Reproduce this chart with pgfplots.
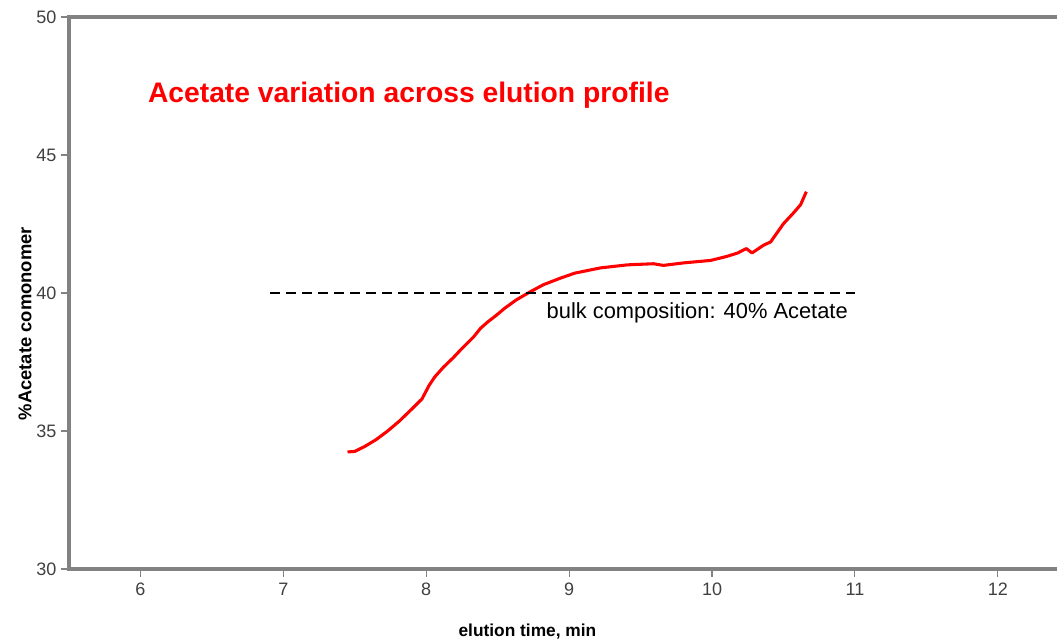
\documentclass[border=0pt]{standalone}
\usepackage{fontspec}
\setmainfont{Liberation Sans}
\usepackage{pgfplots}
\pgfplotsset{compat=1.18}
\definecolor{axgray}{RGB}{130,130,130}
\definecolor{lblgray}{RGB}{64,64,64}
\begin{document}
\begin{tikzpicture}
\begin{axis}[
  at={(0,0)}, anchor=south west,
  scale only axis,
  width=750.2pt, height=414pt,
  xmin=5.5, xmax=12.5, ymin=30, ymax=50,
  xtick={6,7,8,9,10,11,12},
  ytick={30,35,40,45,50},
  xtick pos=bottom, ytick pos=left,
  tick align=outside,
  major tick length=6pt,
  axis line style={axgray},
  every tick/.style={axgray, line width=0.8pt},
  tick label style={font=\fontsize{13.5}{15}\selectfont, text=lblgray},
  /pgf/number format/assume math mode=true,
  xticklabel style={yshift=-1pt},
  clip=false,
]
\addplot[red, line width=2.3pt, line join=round] coordinates {
(7.449,34.24) (7.50,34.26) (7.57,34.44) (7.65,34.69) (7.73,35.00)
(7.81,35.35) (7.90,35.80) (7.97,36.16) (8.02,36.65) (8.06,36.96)
(8.12,37.31) (8.19,37.66) (8.25,37.99) (8.33,38.40) (8.38,38.72)
(8.43,38.95) (8.49,39.19) (8.55,39.45) (8.63,39.75) (8.73,40.05)
(8.82,40.30) (8.94,40.54) (9.04,40.72) (9.22,40.91) (9.41,41.02)
(9.59,41.06) (9.66,41.00) (9.80,41.09) (9.99,41.18) (10.10,41.32)
(10.18,41.45) (10.24,41.61) (10.28,41.45) (10.36,41.73) (10.41,41.85)
(10.50,42.51) (10.57,42.90) (10.62,43.20) (10.66,43.67)
};
\addplot[black, line width=0.8pt, dash pattern=on 7.5pt off 4.5pt] coordinates {(6.91,40) (11.0,40)};
\node[anchor=west, text=red, font=\bfseries\fontsize{21.2}{25}\selectfont] at (axis cs:6.02,47.18) {Acetate variation across elution profile};
\node[anchor=west, font=\fontsize{16.4}{18}\selectfont] at (axis cs:8.81,39.28) {bulk composition: 40\% Acetate};
\node[rotate=90, font=\bfseries\fontsize{13.8}{16}\selectfont] at ([xshift=-33pt]axis cs:5.5,38.89) {\%Acetate comonomer};
\node[font=\bfseries\fontsize{13}{15}\selectfont] at ([yshift=-47.25pt]axis cs:8.708,30) {elution time, min};
\coordinate (TL) at (axis cs:5.5,50);
\coordinate (BL) at (axis cs:5.5,30);
\coordinate (TR) at (axis cs:12.5,50);
\coordinate (BR) at (axis cs:12.5,30);
\end{axis}
\draw[axgray, line width=2.4pt] (TR) -- (TL) -- (BL) -- (BR);
\pgfresetboundingbox
\path[use as bounding box] (-51.75pt,-54pt) rectangle (741pt,426.75pt);
\end{tikzpicture}
\end{document}
